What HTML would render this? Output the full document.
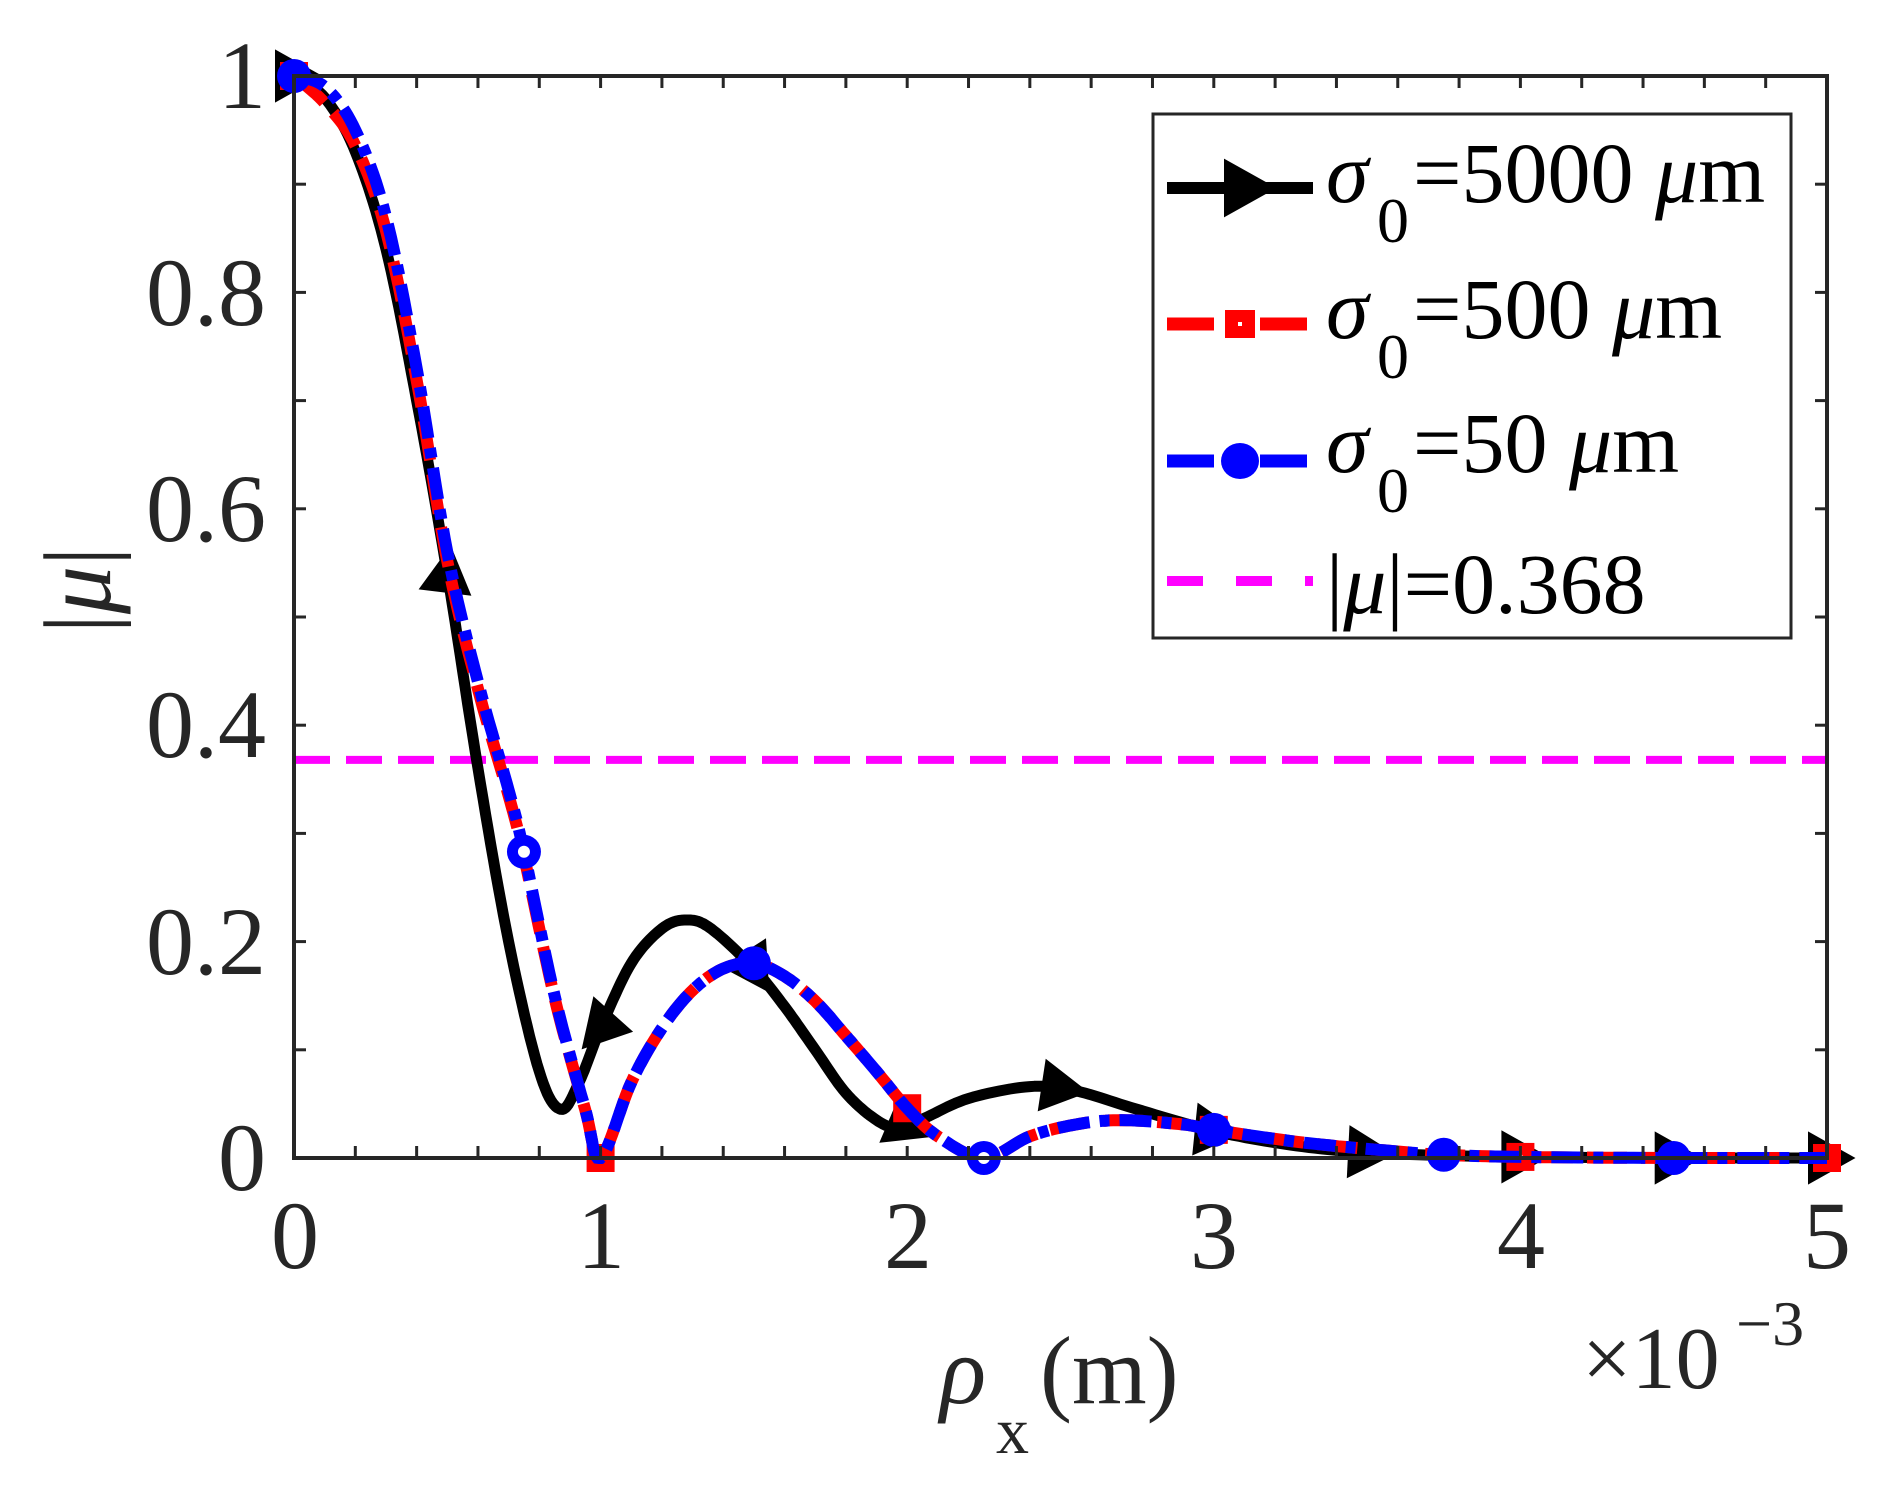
<!DOCTYPE html>
<html><head><meta charset="utf-8"><style>
html,body{margin:0;padding:0;background:#fff;}
svg{display:block;}
text{font-family:"Liberation Serif","DejaVu Serif",serif;fill:#262626;}
</style></head><body>
<svg id="s" width="1886" height="1488" viewBox="0 0 1886 1488" xmlns="http://www.w3.org/2000/svg">
<rect width="1886" height="1488" fill="#fff"/>
<g id="plot"></g>
<rect x="294" y="76" width="1533" height="1082" fill="none" stroke="#262626" stroke-width="4"/>
<g id="ticks"></g>
<g font-size="96" text-anchor="end">
<text x="266" y="1190">0</text>
<text x="266" y="974">0.2</text>
<text x="266" y="757">0.4</text>
<text x="266" y="541">0.6</text>
<text x="266" y="325">0.8</text>
<text x="266" y="108">1</text>
</g>
<g font-size="96" text-anchor="middle">
<text x="295" y="1268">0</text>
<text x="601" y="1268">1</text>
<text x="908" y="1268">2</text>
<text x="1214" y="1268">3</text>
<text x="1521" y="1268">4</text>
<text x="1827" y="1268">5</text>
</g>
<text x="1582" y="1388" font-size="88">×10</text>
<text x="1736" y="1345" font-size="64">−3</text>
<text x="940" y="1403" font-size="96" font-style="italic">ρ</text>
<text x="996" y="1453" font-size="66">x</text>
<text x="1040" y="1403" font-size="96">(m)</text>
<text transform="translate(110,590) rotate(-90)" font-size="96" text-anchor="middle">|<tspan font-style="italic">μ</tspan>|</text>
<rect x="1153" y="114" width="638" height="524" fill="#fff" stroke="#262626" stroke-width="3"/>
<g id="leg"></g>
<g font-size="86">
<text x="1326" y="202" style="fill:#000" font-style="italic">σ</text><text x="1377" y="242" font-size="64" style="fill:#000">0</text><text x="1413" y="202" style="fill:#000">=5000 <tspan font-style="italic">μ</tspan>m</text>
<text x="1326" y="338" style="fill:#000" font-style="italic">σ</text><text x="1377" y="378" font-size="64" style="fill:#000">0</text><text x="1413" y="338" style="fill:#000">=500 <tspan font-style="italic">μ</tspan>m</text>
<text x="1326" y="472" style="fill:#000" font-style="italic">σ</text><text x="1377" y="512" font-size="64" style="fill:#000">0</text><text x="1413" y="472" style="fill:#000">=50 <tspan font-style="italic">μ</tspan>m</text>
<text x="1326" y="613" style="fill:#000">|<tspan font-style="italic">μ</tspan>|=0.368</text>
</g>
</svg>
<script>
(function(){
var NS="http://www.w3.org/2000/svg";
function X(v){return 294+v*306.6;}
function Y(v){return 1158-v*1082;}
function el(p,t,a){var e=document.createElementNS(NS,t);for(var k in a)e.setAttribute(k,a[k]);p.appendChild(e);return e;}
var plot=document.getElementById('plot'),ticks=document.getElementById('ticks'),leg=document.getElementById('leg');
for(var i=0;i<=25;i++){var x=X(i*0.2);
 el(ticks,'line',{x1:x,y1:1158,x2:x,y2:1146,stroke:'#262626','stroke-width':3});
 el(ticks,'line',{x1:x,y1:76,x2:x,y2:88,stroke:'#262626','stroke-width':3});}
for(var j=0;j<=10;j++){var y=Y(j*0.1);
 el(ticks,'line',{x1:294,y1:y,x2:306,y2:y,stroke:'#262626','stroke-width':3});
 el(ticks,'line',{x1:1827,y1:y,x2:1815,y2:y,stroke:'#262626','stroke-width':3});}
function interp(pts,n){
 var out=[];
 for(var i=0;i<pts.length-1;i++){
  var p0=pts[Math.max(0,i-1)],p1=pts[i],p2=pts[i+1],p3=pts[Math.min(pts.length-1,i+2)];
  for(var k=0;k<n;k++){var t=k/n,t2=t*t,t3=t2*t;
   var f=function(a,b,c,d){return 0.5*(2*b+(-a+c)*t+(2*a-5*b+4*c-d)*t2+(-a+3*b-3*c+d)*t3);};
   out.push([f(p0[0],p1[0],p2[0],p3[0]),Math.max(0,f(p0[1],p1[1],p2[1],p3[1]))]);}
 }
 out.push(pts[pts.length-1]);return out;}
function path(pts){return pts.map(function(p,i){return (i?'L':'M')+X(p[0]).toFixed(1)+' '+Y(p[1]).toFixed(1);}).join('');}
function valAt(pts,x){for(var i=0;i<pts.length-1;i++){if(pts[i][0]<=x&&pts[i+1][0]>=x){var t=(x-pts[i][0])/(pts[i+1][0]-pts[i][0]||1);return pts[i][1]+t*(pts[i+1][1]-pts[i][1]);}}return pts[pts.length-1][1];}
var black=[[0,1],[0.1,0.98],[0.2,0.93],[0.3,0.84],[0.4,0.7],[0.5,0.54],[0.6,0.36],[0.7,0.2],[0.8,0.08],[0.87,0.045],[0.93,0.07],[1.0,0.12],[1.1,0.18],[1.2,0.212],[1.28,0.22],[1.36,0.212],[1.5,0.175],[1.6,0.14],[1.7,0.1],[1.8,0.06],[1.9,0.035],[1.97,0.028],[2.05,0.036],[2.2,0.055],[2.4,0.066],[2.55,0.062],[2.75,0.045],[3,0.025],[3.25,0.012],[3.5,0.005],[3.8,0.002],[4,0.001],[4.5,0],[5,0]];
var blue=[[0,1],[0.1,0.99],[0.2,0.95],[0.3,0.87],[0.4,0.73],[0.5,0.56],[0.6,0.44],[0.7,0.34],[0.75,0.283],[0.85,0.15],[0.95,0.045],[1.0,0],[1.1,0.07],[1.2,0.12],[1.3,0.155],[1.4,0.175],[1.5,0.18],[1.6,0.168],[1.7,0.145],[1.8,0.113],[1.9,0.08],[2.0,0.046],[2.1,0.02],[2.25,0],[2.4,0.02],[2.55,0.031],[2.7,0.035],[2.9,0.031],[3.0,0.026],[3.3,0.014],[3.6,0.006],[3.75,0.003],[4,0.001],[4.5,0],[5,0]];
var red=blue.map(function(p){return [p[0],p[0]<1&&p[0]>0?p[1]*0.985:p[1]];});
var bS=interp(black,12),rS=interp(red,12),uS=interp(blue,12);
el(plot,'line',{x1:294,y1:Y(0.368),x2:1827,y2:Y(0.368),stroke:'#ff00ff','stroke-width':8,'stroke-dasharray':'36 16'});
el(plot,'path',{d:path(bS),fill:'none',stroke:'#000','stroke-width':11,'stroke-linejoin':'round'});
function tri(g,cx,cy,ang,s){
 var pts=[[s*0.75,0],[-s*0.5,-s*0.7],[-s*0.5,s*0.7]].map(function(p){var c=Math.cos(ang),sn=Math.sin(ang);return (cx+p[0]*c-p[1]*sn).toFixed(1)+','+(cy+p[0]*sn+p[1]*c).toFixed(1);}).join(' ');
 el(g,'polygon',{points:pts,fill:'#000'});}
var angs={0:0,0.5:-1.45,1:2.3,1.5:1.0,2:0.4,2.5:0.15,3:0.1,3.5:0.05,4:0,4.5:0,5:0};
for(var k=0;k<=10;k++){var xv=k*0.5;tri(plot,X(xv),Y(valAt(bS,xv)),angs[xv],38);}
el(plot,'path',{d:path(rS),fill:'none',stroke:'#ff0000','stroke-width':12,'stroke-dasharray':'40 14'});
for(var k=0;k<=5;k++){var xv=k;var cx=X(xv),cy=Y(valAt(rS,xv));
 el(plot,'rect',{x:cx-14,y:cy-14,width:28,height:28,fill:'#ff0000'});
 el(plot,'rect',{x:cx-2,y:cy-2,width:4,height:4,fill:'#fff'});}
el(plot,'path',{d:path(uS),fill:'none',stroke:'#0000ff','stroke-width':12,'stroke-dasharray':'32 10 10 10'});
for(var k=0;k<=6;k++){var xv=k*0.75;var cx=X(xv),cy=Y(valAt(uS,xv));
 el(plot,'circle',{cx:cx,cy:cy,r:17,fill:'#0000ff'});
 if(xv==0.75||xv==2.25) el(plot,'circle',{cx:cx,cy:cy,r:6,fill:'#fff'});}
el(leg,'line',{x1:1167,y1:188,x2:1313,y2:188,stroke:'#000','stroke-width':12});
tri(leg,1245,188,0,42);
el(leg,'line',{x1:1167,y1:324,x2:1214,y2:324,stroke:'#ff0000','stroke-width':13});
el(leg,'line',{x1:1260,y1:324,x2:1307,y2:324,stroke:'#ff0000','stroke-width':13});
el(leg,'rect',{x:1225,y:310,width:30,height:28,fill:'#ff0000'});
el(leg,'rect',{x:1238,y:322,width:4,height:4,fill:'#fff'});
el(leg,'line',{x1:1167,y1:461,x2:1214,y2:461,stroke:'#0000ff','stroke-width':13});
el(leg,'line',{x1:1260,y1:461,x2:1307,y2:461,stroke:'#0000ff','stroke-width':13});
el(leg,'ellipse',{cx:1240,cy:461,rx:19,ry:18,fill:'#0000ff'});
el(leg,'line',{x1:1167,y1:581,x2:1313,y2:581,stroke:'#ff00ff','stroke-width':10,'stroke-dasharray':'36 33'});
})();
</script>
</body></html>
